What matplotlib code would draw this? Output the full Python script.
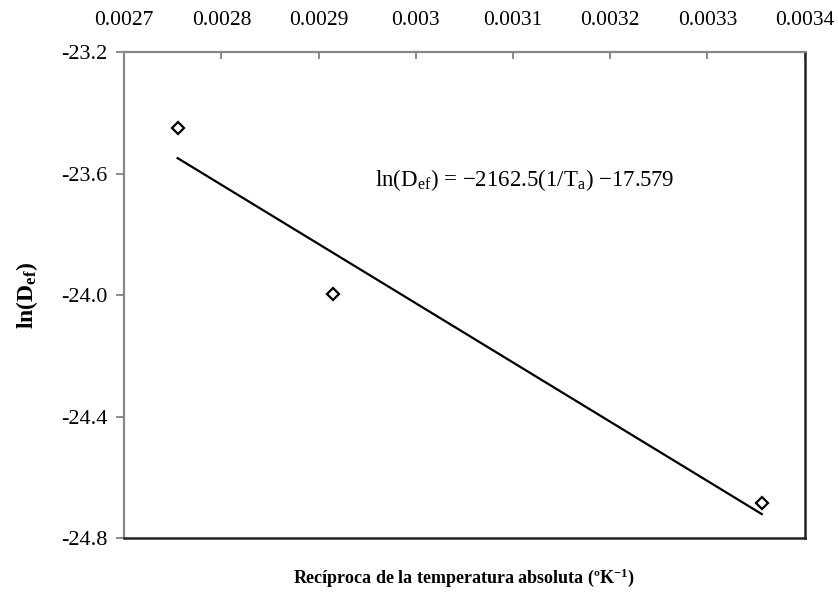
import numpy as np
import matplotlib.pyplot as plt

plt.rcParams["font.family"] = ["Liberation Serif", "DejaVu Serif"]
plt.rcParams["mathtext.fontset"] = "custom"
plt.rcParams["mathtext.rm"] = "Liberation Serif"
plt.rcParams["mathtext.it"] = "Liberation Serif:italic"
plt.rcParams["mathtext.bf"] = "Liberation Serif:bold"

# 1/T for 90, 70 and 25 C
inv_temp = [0.002755, 0.002915, 0.003356]
ln_def = [-23.45, -23.995, -24.685]
x_ticks = [0.0027, 0.0028, 0.0029, 0.003, 0.0031, 0.0032, 0.0033, 0.0034]
x_tick_labels = ["0.0027", "0.0028", "0.0029", "0.003", "0.0031", "0.0032", "0.0033", "0.0034"]
y_ticks = [-24.8, -24.4, -24.0, -23.6, -23.2]

fig = plt.figure(figsize=(8.39, 5.94), dpi=100)
ax = fig.add_axes([0.148, 0.094, 0.811, 0.818])

# trend line through the points
k, b = np.polyfit(inv_temp, ln_def, 1)
xl = np.array([min(inv_temp), max(inv_temp)])
ax.plot(xl, k * xl + b, color="black", lw=1.6)
ax.plot(inv_temp, ln_def, ls="none", marker="D", ms=6, mfc="white",
        mec="black", mew=1.6)

ax.set_xlim(0.0027, 0.0034)
ax.set_ylim(-24.8, -23.2)
ax.set_xticks(x_ticks)
ax.set_xticklabels(x_tick_labels)
ax.set_yticks(y_ticks)
ax.set_yticklabels([f"{v:.1f}" for v in y_ticks])

ax.xaxis.tick_top()
ax.tick_params(axis="x", direction="in", length=5, width=1.2, color="#777777",
               labelsize=15.5, pad=16)
ax.tick_params(axis="y", direction="out", length=6, width=1.2, color="#777777",
               labelsize=16, pad=6)

for side in ["left", "top"]:
    ax.spines[side].set_color("#888888")
    ax.spines[side].set_linewidth(1.6)
for side in ["right", "bottom"]:
    ax.spines[side].set_color("#222222")
    ax.spines[side].set_linewidth(1.8)

ax.text(0.002958, -23.62, r"ln(D$_{\rm ef}$) = $-$2162.5(1/T$_{\rm a}$) $-$17.579",
        fontsize=16.5, ha="left", va="center")

fig.text(0.553, 0.027, r"Recíproca de la temperatura absoluta (ºK$^{\mathbf{-1}}$)",
         fontsize=13, fontweight="bold", ha="center", va="center")
fig.text(0.032, 0.503, r"ln(D$_{\mathbf{ef}}$)", fontsize=17, fontweight="bold",
         rotation=90, ha="center", va="center")

fig.savefig("out.png", dpi=100)
